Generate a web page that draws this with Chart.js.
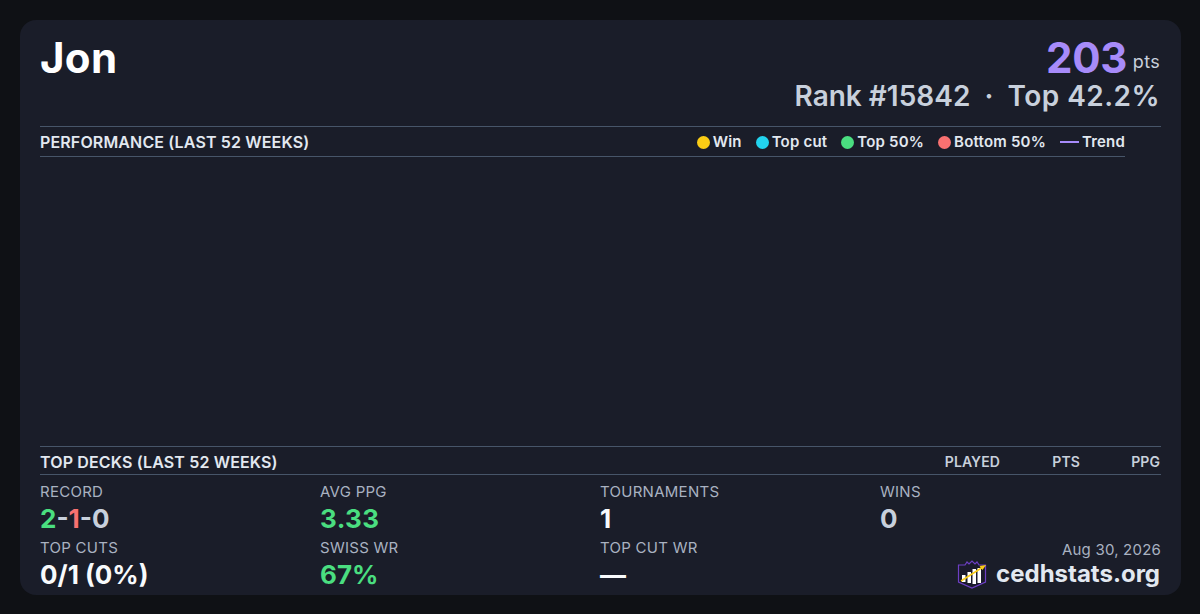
<!DOCTYPE html>
<html>
<head>
<meta charset="utf-8">
<title>Jon</title>
<script src="https://cdn.jsdelivr.net/npm/chart.js@4/dist/chart.umd.min.js"></script>
<style>
* { box-sizing: border-box; margin: 0; padding: 0; }
html, body { width: 1200px; height: 614px; overflow: hidden; background: #0f1115; font-family: Inter, sans-serif; }
.card { position: absolute; left: 20px; top: 20px; width: 1161px; height: 575px; background: #1a1d29; border-radius: 16px; }
.t { position: absolute; white-space: nowrap; line-height: 1; }
.r { text-align: right; }
.rule { position: absolute; height: 1px; background: #475569; }
.head { font-size: 16px; font-weight: 600; color: #e2e8f0; letter-spacing: 0.14px; }
.lab { font-size: 15px; font-weight: 400; color: #a9b2c1; letter-spacing: 0.27px; }
.val { font-size: 26px; font-weight: 700; color: #f8fafc; }
.col { font-size: 14px; font-weight: 600; color: #c8d0dc; letter-spacing: 0.1px; }
#legend { position: absolute; right: 75px; top: 134px; display: flex; font-size: 15px; font-weight: 600; color: #e2e8f0; line-height: 16px; letter-spacing: 0.2px; }
#legend .item { display: flex; align-items: center; margin-left: 14px; }
#legend .dot { width: 13px; height: 13px; border-radius: 50%; margin-right: 3px; }
#legend .dash { width: 19px; height: 2px; margin-right: 3px; }
#chartBox { position: absolute; left: 40px; top: 157px; width: 1085px; height: 289px; }
</style>
</head>
<body>
<div class="card"></div>

<div class="t" style="left:40px;top:37px;font-size:42px;font-weight:700;color:#fff;letter-spacing:0.3px">Jon</div>
<div class="t" style="right:73px;top:37px;font-size:42px;font-weight:700;color:#a78bfa;letter-spacing:-0.3px">203</div>
<div class="t" style="right:40px;top:53px;font-size:18px;color:#c8d0dc;letter-spacing:0.3px">pts</div>
<div class="t" style="right:40px;top:82px;font-size:28px;font-weight:600;color:#c8d0dc;white-space:pre">Rank #15842 &nbsp;·&nbsp; <span style="letter-spacing:0.45px">Top 42.2%</span></div>

<div class="rule" style="left:40px;top:126px;width:1121px"></div>
<div class="t head" style="left:40px;top:134px">PERFORMANCE (LAST 52 WEEKS)</div>
<div id="legend"></div>
<div class="rule" style="left:40px;top:156px;width:1085px"></div>

<div id="chartBox"><canvas id="perfChart"></canvas></div>

<div class="rule" style="left:40px;top:446px;width:1121px"></div>
<div class="t head" style="left:40px;top:454px">TOP DECKS (LAST 52 WEEKS)</div>
<div class="t col r" style="right:200px;top:455px">PLAYED</div>
<div class="t col r" style="right:120px;top:455px">PTS</div>
<div class="t col r" style="right:40px;top:455px">PPG</div>
<div class="rule" style="left:40px;top:474px;width:1121px"></div>

<div class="t lab" style="left:40px;top:484px">RECORD</div>
<div class="t val" style="left:40px;top:506px"><span style="color:#4ade80">2</span><span style="color:#c8d0dc">-</span><span style="color:#f87171">1</span><span style="color:#c8d0dc">-0</span></div>
<div class="t lab" style="left:320px;top:484px">AVG PPG</div>
<div class="t val" style="left:320px;top:506px;color:#4ade80;letter-spacing:0.4px">3.33</div>
<div class="t lab" style="left:600px;top:484px">TOURNAMENTS</div>
<div class="t val" style="left:600px;top:506px">1</div>
<div class="t lab" style="left:880px;top:484px">WINS</div>
<div class="t val" style="left:880px;top:506px;color:#c8d0dc">0</div>

<div class="t lab" style="left:40px;top:540px">TOP CUTS</div>
<div class="t val" style="left:40px;top:562px">0/1 (0%)</div>
<div class="t lab" style="left:320px;top:540px">SWISS WR</div>
<div class="t val" style="left:320px;top:562px;color:#4ade80">67%</div>
<div class="t lab" style="left:600px;top:540px">TOP CUT WR</div>
<div class="t val" style="left:600px;top:562px">—</div>

<div class="t lab r" style="right:39px;top:542px;letter-spacing:0.2px">Aug 30, 2026</div>
<div class="t r" style="right:40px;top:562px;font-size:24px;font-weight:700;color:#e2e8f0">cedhstats.org</div>
<svg style="position:absolute;left:957px;top:559px" width="30" height="31" viewBox="0 0 30 31">
  <path d="M1.5 6 L8 6 L10 3 L12 5 L15 2 L18 5 L20 3 L22 6 L28.5 6 L28.5 23 L15 29 L1.5 23 Z" fill="#1a1a2b" stroke="#6d3fc4" stroke-width="1.2"/>
  <rect x="5" y="16" width="3.5" height="7" fill="#fff"/>
  <rect x="10.5" y="13" width="3.5" height="11" fill="#fff"/>
  <rect x="15.5" y="10" width="3.5" height="15" fill="#fff"/>
  <rect x="20.5" y="9" width="3.5" height="15" fill="#fff"/>
  <path d="M4 22 L26 8" stroke="#facc15" stroke-width="1.5"/>
  <path d="M29 6 L22.5 7 L25.5 11 Z" fill="#facc15"/>
</svg>

<script>
// nothing was played on the visible range, the plot stays empty
const seriesNames = ['Win', 'Top cut', 'Top 50%', 'Bottom 50%', 'Trend'];
const seriesColors = ['#facc15', '#22d3ee', '#4ade80', '#f87171', '#a78bfa'];
const winPoints = [];
const topCutPoints = [];
const top50Points = [];
const bottom50Points = [];
const trendPoints = [];

const perfChart = new Chart(document.getElementById('perfChart'), {
  type: 'scatter',
  data: {
    datasets: [
      { label: seriesNames[0], data: winPoints, backgroundColor: seriesColors[0] },
      { label: seriesNames[1], data: topCutPoints, backgroundColor: seriesColors[1] },
      { label: seriesNames[2], data: top50Points, backgroundColor: seriesColors[2] },
      { label: seriesNames[3], data: bottom50Points, backgroundColor: seriesColors[3] },
      { label: seriesNames[4], data: trendPoints, type: 'line', borderColor: seriesColors[4], backgroundColor: seriesColors[4], pointRadius: 0 }
    ]
  },
  options: {
    responsive: true,
    maintainAspectRatio: false,
    animation: false,
    plugins: { legend: { display: false }, tooltip: { enabled: false } },
    scales: { x: { display: false }, y: { display: false } }
  }
});

// legend is html so the marker gap can be tighter than the built in one
const legendBox = document.getElementById('legend');
perfChart.data.datasets.forEach(ds => {
  const item = document.createElement('div');
  item.className = 'item';
  const mark = document.createElement('span');
  mark.className = ds.type === 'line' ? 'dash' : 'dot';
  mark.style.background = ds.backgroundColor;
  item.appendChild(mark);
  item.appendChild(document.createTextNode(ds.label));
  legendBox.appendChild(item);
});
</script>
</body>
</html>
